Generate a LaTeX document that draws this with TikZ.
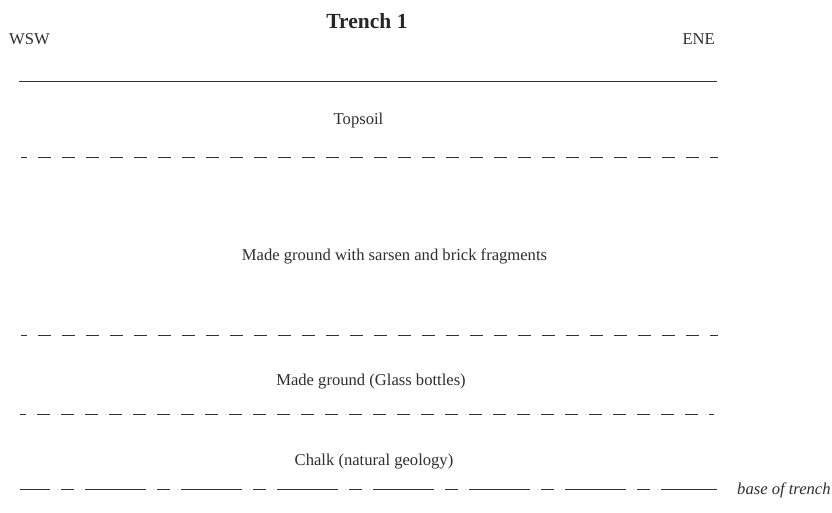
\documentclass[tikz,border=0pt]{standalone}
\usepackage{fontspec}
\setmainfont{Liberation Serif}
\begin{document}
\begin{tikzpicture}[x=1pt,y=-1pt,
  lbl/.style={font=\fontsize{16.6}{19}\selectfont, text=black!82, inner sep=0pt},
  ttl/.style={font=\fontsize{21.5}{24}\selectfont\bfseries, text=black!85, inner sep=0pt},
  bnd/.style={line width=0.8pt, black!80},
  dsh/.style={bnd, dash pattern=on 13pt off 11pt, dash phase=7pt},
  basel/.style={bnd, dash pattern=on 61pt off 11pt on 13pt off 11pt, dash phase=31pt}]
\useasboundingbox (0,0) rectangle (832,512);
\node[ttl] (title) at (367,21.5) {Trench 1};
\node[lbl, anchor=west] (wsw) at (9,39) {WSW};
\node[lbl, anchor=east] (ene) at (715,39) {ENE};
\coordinate (t1) at (19,81); \coordinate (t2) at (717,81);
\draw[bnd] (t1) -- (t2);
\node[lbl] (top) at (358.5,120.5) {Topsoil};
\coordinate (a1) at (21,157); \coordinate (a2) at (718,157);
\draw[dsh] (a1) -- (a2);
\node[lbl] (made) at (394.5,256.5) {Made ground with sarsen and brick fragments};
\coordinate (b1) at (21,335); \coordinate (b2) at (718,335);
\draw[dsh] (b1) -- (b2);
\node[lbl] (glass) at (371,381.5) {Made ground (Glass bottles)};
\coordinate (c1) at (20,414); \coordinate (c2) at (714,414);
\draw[dsh] (c1) -- (c2);
\node[lbl] (chalk) at (374,461.5) {Chalk (natural geology)};
\coordinate (d1) at (20,489); \coordinate (d2) at (717,489);
\draw[basel] (d1) -- (d2);
\node[lbl, anchor=west, font=\fontsize{16.6}{19}\selectfont\itshape] (base) at (737,490) {base of trench};
\end{tikzpicture}
\end{document}
